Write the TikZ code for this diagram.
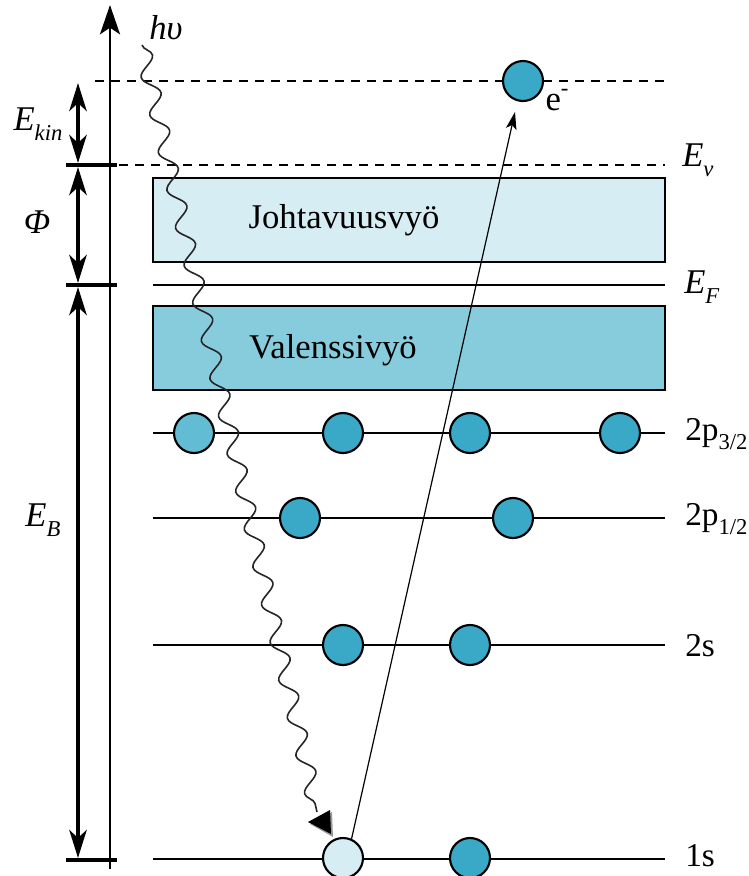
\documentclass[tikz,border=0pt]{standalone}
\usepackage{fontspec}
\setmainfont{Liberation Serif}
\usetikzlibrary{arrows.meta,decorations.pathmorphing}
\definecolor{cband}{HTML}{D6EDF3}
\definecolor{vband}{HTML}{86CCDC}
\definecolor{elec}{HTML}{3AA9C8}
\definecolor{elecl}{HTML}{62BDD4}
\tikzset{
  band/.style={draw, line width=1.6pt, rectangle, minimum width=384pt, minimum height=63pt, inner sep=0pt},
  lvl/.style={line width=1.7pt},
  tick/.style={line width=3pt},
  dimarrow/.style={line width=3pt, {Stealth[length=21pt,width=13pt,inset=6pt]}-{Stealth[length=21pt,width=13pt,inset=6pt]}},
  dashedlvl/.style={line width=1.7pt, dash pattern=on 7pt off 5pt},
  elecnode/.style={circle, draw, line width=1.6pt, fill=elec, minimum size=30pt, inner sep=0pt},
  txt/.style={font=\fontsize{26}{30}\selectfont, inner sep=0pt},
  lbl/.style={font=\fontsize{25}{30}\selectfont, inner sep=0pt, anchor=west},
  elbl/.style={font=\fontsize{26}{30}\selectfont\itshape, inner sep=0pt},
}
\newcommand{\subtx}[1]{\raisebox{-0.28em}{\fontsize{17}{18}\selectfont #1}}
\newcommand{\suptx}[1]{\raisebox{0.45em}{\fontsize{17}{18}\selectfont #1}}
\begin{document}
\begin{tikzpicture}[x=0.75pt,y=-0.75pt]
\useasboundingbox (0,0) rectangle (749,876);

% bands
\node (cb) [band, fill=cband] at (409,220) {};
\node (cbt) [txt] at (344,220) {Johtavuusvyö};
\node (vb) [band, fill=vband] at (409,348) {};
\node (vbt) [txt] at (333,350) {Valenssivyö};

% level coordinates
\coordinate (vacL) at (95,81);   \coordinate (vacR) at (665,81);
\coordinate (evL) at (119,165);  \coordinate (evR) at (665,165);
\coordinate (efL) at (153,285);  \coordinate (efR) at (665,285);
\coordinate (p3L) at (153,433);  \coordinate (p3R) at (665,433);
\coordinate (p1L) at (153,518);  \coordinate (p1R) at (665,518);
\coordinate (s2L) at (153,645);  \coordinate (s2R) at (665,645);
\coordinate (s1L) at (153,859);  \coordinate (s1R) at (665,859);

\draw[dashedlvl] (vacL) -- (vacR);
\draw[dashedlvl] (evL) -- (evR);
\draw[lvl] (efL) -- (efR);
\draw[lvl] (p3L) -- (p3R);
\draw[lvl] (p1L) -- (p1R);
\draw[lvl] (s2L) -- (s2R);
\draw[lvl] (s1L) -- (s1R);

% axis
\coordinate (axB) at (110,869);
\coordinate (axT) at (110,5);
\draw[line width=1.6pt, -{Stealth[length=22pt,width=15pt,inset=5pt]}] (axB) -- (axT);

% ticks
\coordinate (t1L) at (66,165); \coordinate (t1R) at (117,165);
\coordinate (t2L) at (66,285); \coordinate (t2R) at (117,285);
\coordinate (t3L) at (66,860); \coordinate (t3R) at (117,860);
\draw[tick] (t1L) -- (t1R);
\draw[tick] (t2L) -- (t2R);
\draw[tick] (t3L) -- (t3R);

% dimension arrows
\coordinate (k1) at (78,83);  \coordinate (k2) at (78,163);
\coordinate (f1) at (78,167); \coordinate (f2) at (78,283);
\coordinate (b1) at (78,287); \coordinate (b2) at (78,858);
\draw[dimarrow] (k1) -- (k2);
\draw[dimarrow] (f1) -- (f2);
\draw[dimarrow] (b1) -- (b2);

\node (ekin) [elbl] at (38,124) {E\subtx{kin}};
\node (phi) [elbl] at (37,222) {Φ};
\node (eb) [elbl] at (43,520) {E\subtx{B}};
\node (ev) [elbl, anchor=west] at (682,160) {E\subtx{v}};
\node (ef) [elbl, anchor=west] at (684,287) {E\subtx{F}};

% photon
\coordinate (hvS) at (142,45);
\coordinate (hvE) at (317,812);
\draw[line width=1.2pt, black!85, decorate, decoration={snake, segment length=29pt, amplitude=6pt, post length=2pt}] (hvS) -- (hvE);
\node (hv) [elbl] at (166,28) {hυ};
\fill[black!40] (310,824) -- (332,812) -- (333,837) -- cycle;
\fill[black] (308,822) -- (330,810) -- (331,834) -- cycle;

% electrons
\node (a1) [elecnode, fill=elecl] at (194,433) {};
\node (a2) [elecnode] at (343,433) {};
\node (a3) [elecnode] at (470,433) {};
\node (a4) [elecnode] at (620,433) {};
\node (b1e) [elecnode] at (300,518) {};
\node (b2e) [elecnode] at (513,518) {};
\node (c1) [elecnode] at (343,645) {};
\node (c2) [elecnode] at (470,645) {};
\node (d1) [elecnode, fill=cband] at (343,858) {};
\node (d2) [elecnode] at (470,858) {};
\node (efree) [elecnode] at (523,81) {};
\node (elab) [txt] at (557,100) {e\suptx{-}};

\coordinate (etip) at (515,112);
\draw[line width=0.9pt, -{Stealth[length=13pt,width=8pt,inset=3pt]}] (d1.66) -- (etip);

% level labels
\node (l1) [lbl] at (685,434) {2p\subtx{3/2}};
\node (l2) [lbl] at (685,519) {2p\subtx{1/2}};
\node (l3) [lbl] at (685,646) {2s};
\node (l4) [lbl] at (685,856) {1s};
\end{tikzpicture}
\end{document}
